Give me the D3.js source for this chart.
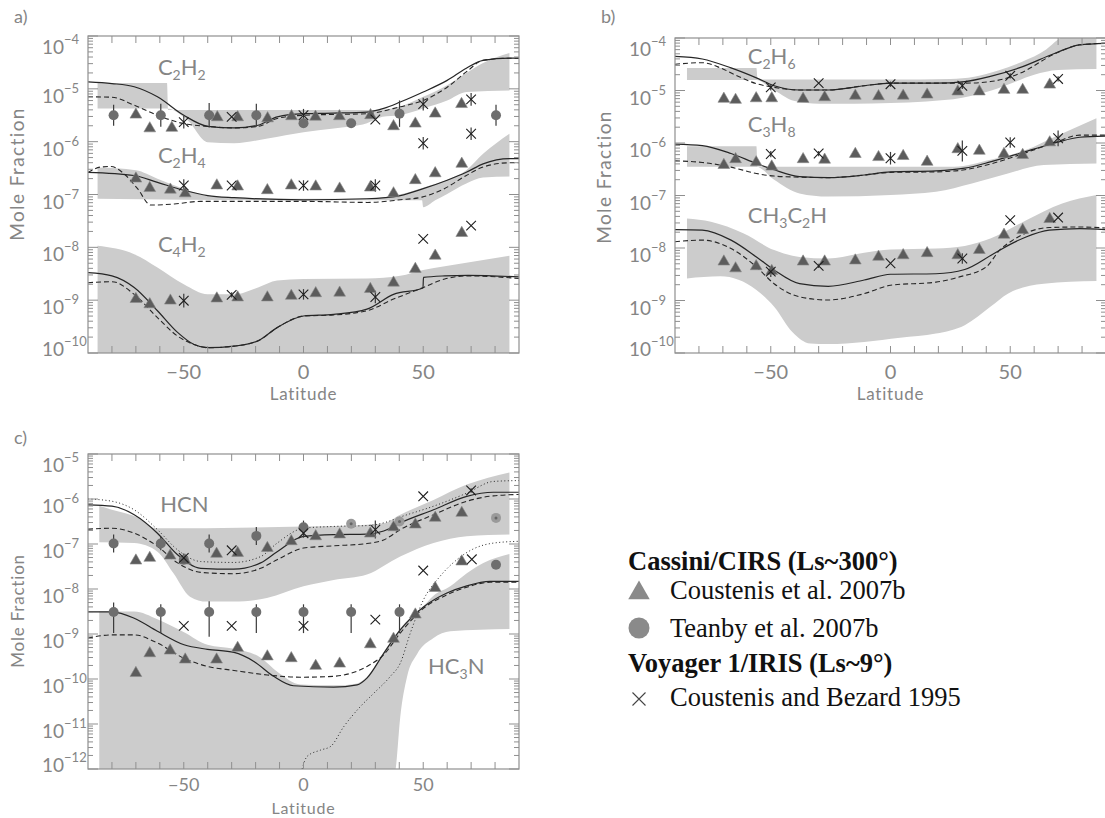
<!DOCTYPE html>
<html>
<head>
<meta charset="utf-8">
<script src="https://cdn.jsdelivr.net/npm/d3@7"></script>
<style>
  body { margin: 0; background: #fff; }
  svg { display: block; }
</style>
</head>
<body>
<div id="chart"></div>
<script>
// all values are log10(mole fraction); x is latitude (deg)

// ---- panel a ----
var c2h2BandHi = [[-86,-4.89],[-57,-4.89],[-56.5,-5.40],[-30,-5.40],[0,-5.40],[30,-5.40],[40,-5.34],[50,-5.15],[60,-4.93],[68,-4.70],[75,-4.51],[86,-4.32]]
var c2h2BandLo = [[-86,-5.37],[-57,-5.37],[-48.5,-5.59],[-40,-6.01],[-29,-6.03],[-15,-5.94],[0,-5.82],[12.6,-5.75],[26.5,-5.65],[33,-5.53],[40,-5.50],[50,-5.37],[60,-5.22],[68,-5.06],[86,-5.03]]
var c2h2Solid  = [[-90,-4.87],[-80,-4.90],[-70.7,-4.96],[-61,-5.15],[-50,-5.50],[-40,-5.71],[-29,-5.74],[-19,-5.69],[-11,-5.53],[0,-5.47],[12.6,-5.46],[26.5,-5.44],[33.5,-5.37],[40.4,-5.25],[50,-5.06],[60,-4.84],[68,-4.61],[75,-4.46],[86,-4.42],[90,-4.42]]
var c2h2Dash   = [[-90,-5.15],[-80,-5.16],[-70.7,-5.31],[-61,-5.50],[-50,-5.66],[-40,-5.71],[-29,-5.74],[-19,-5.71],[-11,-5.56],[0,-5.50],[26.5,-5.47],[40.4,-5.34],[50,-5.22],[60,-4.97],[68,-4.68],[75,-4.46],[86,-4.42],[90,-4.42]]
var c2h2Tri    = [[-70,-5.49],[-64.2,-5.75],[-55,-5.74],[-36,-5.54],[-27.5,-5.54],[-15,-5.56],[-5,-5.52],[5,-5.53],[15,-5.52],[28,-5.50],[37.6,-5.71],[46.7,-5.66],[55,-5.47],[66,-5.29]]
var c2h2Circ   = [[-79.3,-5.50,0.2,0.2],[-59.6,-5.50,0.22,0.22],[-39.4,-5.50,0.23,0.23],[-19.7,-5.50,0.22,0.22],[0,-5.65,0.09,0.09],[19.9,-5.65,0.08,0.08],[40.1,-5.47,0.25,0.25],[80.4,-5.50,0.2,0.2]]
var c2h2Cross  = [[-50,-5.63,0.12,0.12],[-30,-5.53,0,0],[0,-5.50,0.12,0.12],[30,-5.58,0,0],[50,-5.29,0.12,0.12],[50,-6.03,0.12,0.12],[70,-5.20,0.12,0.12],[70,-5.85,0.12,0.12]]

var c2h4BandHi = [[-86,-6.49],[-70,-6.54],[-61,-6.70],[-50,-6.89],[-40,-7.03],[-30,-7.06],[0,-7.08],[30,-7.07],[40,-7.0],[50,-6.87],[60,-6.72],[68,-6.54],[75,-6.23],[86,-5.85]]
var c2h4BandLo = [[-86,-7.08],[-50,-7.10],[0,-7.11],[49.5,-7.11],[50,-7.24],[55,-7.11],[60,-6.99],[68,-6.79],[75,-6.68],[86,-6.66]]
var c2h4Solid  = [[-90,-6.58],[-70.7,-6.64],[-61,-6.77],[-50,-6.92],[-40,-7.02],[-29,-7.06],[0,-7.10],[26.5,-7.08],[40.4,-7.02],[50,-6.89],[60,-6.73],[68,-6.58],[75,-6.42],[86,-6.32],[90,-6.32]]
var c2h4Dash   = [[-90,-6.58],[-84.6,-6.48],[-80.4,-6.47],[-74.9,-6.61],[-69.3,-6.89],[-63.8,-7.20],[-54,-7.18],[-43,-7.13],[0,-7.13],[26.5,-7.15],[40.4,-7.10],[49.5,-7.05],[58.8,-6.89],[68,-6.64],[75,-6.48],[86,-6.40],[90,-6.40]]
var c2h4Tri    = [[-70,-6.70],[-64.2,-6.88],[-55.6,-6.91],[-49.4,-6.98],[-36.2,-6.83],[-27.5,-6.85],[-15.1,-6.92],[-5.1,-6.83],[5.1,-6.85],[15.1,-6.89],[27.9,-6.87],[37.6,-6.98],[46.7,-6.73],[55,-6.60],[66.1,-6.42]]
var c2h4Cross  = [[-50,-6.83,0.12,0.12],[-30,-6.83,0,0],[0,-6.83,0.1,0.1],[30,-6.83,0.12,0.12]]

var c4h2BandHi = [[-86,-7.97],[-70.7,-8.13],[-61,-8.38],[-50,-8.70],[-40,-8.89],[-29,-8.89],[-19,-8.76],[-11,-8.63],[0,-8.60],[26.5,-8.59],[40.4,-8.54],[50,-8.43],[68,-8.29],[86,-8.16]]
var c4h2BandLo = [[-86,-10.3],[86,-10.3]]
var c4h2Solid  = [[-90,-8.48],[-80,-8.54],[-70.7,-8.76],[-61,-9.20],[-52.6,-9.61],[-45.7,-9.84],[-40,-9.90],[-29,-9.87],[-19,-9.77],[-11,-9.52],[0,-9.30],[12.6,-9.27],[26.5,-9.17],[37.6,-8.89],[49.9,-8.77],[50.1,-8.57],[59,-8.54],[68.7,-8.53],[90,-8.56]]
var c4h2Dash   = [[-90,-8.67],[-80,-8.65],[-70.7,-8.89],[-61,-9.33],[-52.6,-9.68],[-45.7,-9.84],[-40,-9.90],[-29,-9.87],[-19,-9.77],[-11,-9.52],[0,-9.30],[12.6,-9.28],[26.5,-9.20],[37.6,-8.98],[49.5,-8.77],[59,-8.60],[68.7,-8.54],[90,-8.59]]
var c4h2Tri    = [[-70,-8.98],[-64.2,-9.08],[-55.6,-9.01],[-36.2,-8.97],[-27.5,-8.95],[-15.1,-8.95],[-5.1,-8.92],[5.1,-8.87],[15.1,-8.86],[27.9,-8.79],[37.6,-8.67],[46.7,-8.41],[55,-8.16],[66.1,-7.73]]
var c4h2Cross  = [[-50,-9.01,0.13,0.13],[-30,-8.90,0.05,0.05],[0,-8.89,0.1,0.1],[30,-8.94,0.12,0.12],[50,-7.84,0,0],[70,-7.59,0,0]]

// ---- panel b ----
var c2h6BandHi = [[-85,-4.57],[-56,-4.57],[-55.5,-4.79],[0,-4.79],[25,-4.78],[35,-4.74],[45,-4.62],[55,-4.45],[65,-4.22],[70,-4.03],[77,-3.9],[86,-3.9]]
var c2h6BandLo = [[-85,-4.80],[-56,-4.80],[-50,-4.95],[-40,-5.20],[-30,-5.25],[-15,-5.25],[0,-5.24],[15,-5.21],[30,-5.14],[40,-5.03],[50,-4.87],[60,-4.70],[70,-4.61],[86,-4.59]]
var c2h6Solid  = [[-90,-4.35],[-78.6,-4.40],[-66.6,-4.57],[-56,-4.76],[-48.6,-4.91],[-38,-4.99],[-26,-4.99],[-11,-4.91],[0,-4.86],[19,-4.86],[31,-4.83],[41.7,-4.73],[53.7,-4.57],[68.7,-4.29],[79,-4.13],[90,-4.10]]
var c2h6Dash   = [[-90,-4.50],[-78.6,-4.47],[-71,-4.57],[-65,-4.70],[-56,-4.87],[-48.6,-4.94],[-38,-4.99],[-26,-4.99],[-11,-4.91],[0,-4.86],[19,-4.86],[31,-4.86],[41.7,-4.83],[53.7,-4.68],[68.7,-4.30],[79,-4.13],[90,-4.10]]
var c2h6Tri    = [[-69.6,-5.16],[-64.7,-5.18],[-56.1,-5.15],[-49.6,-5.15],[-36.5,-5.16],[-27.5,-5.13],[-14.7,-5.10],[-5,-5.11],[5.3,-5.10],[15.3,-5.08],[28.1,-5.02],[37.1,-5.02],[47.4,-4.99],[55.2,-4.99],[66.5,-4.89]]
var c2h6Cross  = [[-50,-4.94,0.06,0.06],[-30,-4.86,0,0],[0,-4.88,0.05,0.05],[30,-4.91,0.06,0.06],[50,-4.72,0.05,0.05],[70,-4.78,0.05,0.05]]

var c3h8BandHi = [[-85,-6.06],[-56,-6.06],[-55.5,-6.45],[26.6,-6.45],[41.7,-6.32],[56.7,-6.13],[68.7,-5.88],[86,-5.53]]
var c3h8BandLo = [[-85,-6.45],[-56,-6.45],[-48.6,-6.70],[-38,-6.96],[-26,-7.02],[0,-6.99],[19,-6.93],[34,-6.77],[49,-6.58],[64,-6.42],[86,-6.39]]
var c3h8Solid  = [[-90,-6.02],[-78.6,-6.05],[-66.6,-6.20],[-56,-6.39],[-48.6,-6.51],[-38,-6.64],[-26,-6.66],[-11,-6.61],[0,-6.55],[19,-6.53],[31,-6.48],[41.7,-6.36],[53.7,-6.20],[68.7,-6.00],[79,-5.89],[90,-5.87]]
var c3h8Dash   = [[-90,-6.34],[-78.6,-6.37],[-66.6,-6.46],[-56,-6.58],[-48.6,-6.63],[-38,-6.65],[-26,-6.66],[-11,-6.61],[0,-6.56],[19,-6.55],[31,-6.51],[41.7,-6.40],[53.7,-6.23],[68.7,-5.99],[79,-5.85],[90,-5.85]]
var c3h8Tri    = [[-69.6,-6.42],[-64.7,-6.31],[-56.1,-6.37],[-49.6,-6.45],[-36.5,-6.31],[-27.5,-6.32],[-14.7,-6.21],[-5,-6.27],[5.3,-6.25],[15.3,-6.36],[28.1,-6.12],[37.1,-6.15],[47.4,-6.21],[55.2,-6.23],[66.5,-5.99]]
var c3h8Cross  = [[-50,-6.21,0.06,0.06],[-30,-6.20,0.05,0.05],[0,-6.29,0.12,0.12],[30,-6.15,0.2,0.2],[50,-5.99,0.1,0.1],[70,-5.91,0.15,0.15]]

var ch3c2hBandHi = [[-85,-7.44],[-75,-7.50],[-61.5,-7.72],[-48.6,-8.04],[-38,-8.17],[-26,-8.20],[-11,-8.09],[0,-8.03],[19,-8.01],[31,-7.96],[41.7,-7.82],[56.7,-7.47],[71.7,-7.15],[86,-6.99]]
var ch3c2hBandLo = [[-85,-8.58],[-71,-8.54],[-56,-8.80],[-48.6,-9.12],[-41,-9.60],[-33.5,-9.82],[-26,-9.83],[-11,-9.79],[4,-9.71],[19,-9.63],[31,-9.47],[41.7,-9.12],[49,-8.87],[64,-8.68],[86,-8.63]]
var ch3c2hSolid  = [[-90,-7.65],[-78.6,-7.66],[-66.6,-7.85],[-56,-8.17],[-48.6,-8.42],[-38,-8.68],[-26,-8.73],[-11,-8.61],[0,-8.50],[19,-8.49],[31,-8.41],[42.7,-8.12],[49.6,-7.94],[56.6,-7.79],[66.3,-7.66],[79,-7.63],[90,-7.65]]
var ch3c2hDash   = [[-90,-7.88],[-78.6,-7.85],[-66.6,-8.01],[-56,-8.36],[-48.6,-8.68],[-38,-8.93],[-26,-8.99],[-11,-8.87],[0,-8.71],[19,-8.65],[28.8,-8.55],[40,-8.36],[45.6,-8.04],[51.1,-7.85],[66.3,-7.61],[79,-7.60],[90,-7.62]]
var ch3c2hTri    = [[-69.6,-8.26],[-64.7,-8.39],[-56.1,-8.35],[-49.6,-8.44],[-36.5,-8.26],[-27.5,-8.26],[-14.7,-8.24],[-5,-8.17],[5.3,-8.14],[15.3,-8.10],[28.1,-8.14],[37.1,-8.04],[47.4,-7.75],[55.2,-7.66],[66.5,-7.45]]
var ch3c2hCross  = [[-50,-8.45,0.1,0.1],[-30,-8.34,0.04,0.04],[0,-8.29,0,0],[30,-8.20,0.1,0.1],[50,-7.47,0,0],[70,-7.42,0,0]]

// ---- panel c ----
var hcnBandHi = [[-85.3,-6.15],[-80,-6.24],[-68.8,-6.42],[-61.5,-6.65],[0,-6.61],[26.5,-6.57],[33.5,-6.54],[40.4,-6.35],[54.3,-6.02],[68.2,-5.68],[86,-5.41]]
var hcnBandLo = [[-85.3,-6.96],[-70.7,-6.98],[-61,-7.17],[-54.3,-7.65],[-47.4,-8.17],[-40.4,-8.28],[-29.2,-8.28],[-15.3,-8.20],[0,-7.94],[12.6,-7.80],[26.5,-7.68],[40.4,-7.28],[54.3,-6.98],[68.2,-6.83],[86,-6.79]]
var hcnSolid  = [[-90,-6.13],[-80,-6.16],[-70.7,-6.35],[-61,-6.76],[-52.6,-7.24],[-42.9,-7.54],[-29.2,-7.56],[-17.9,-7.42],[-11,-7.17],[0,-6.83],[12.6,-6.79],[26.5,-6.78],[33.5,-6.71],[40.4,-6.53],[54.3,-6.24],[68.2,-5.94],[79.3,-5.85],[90,-5.85]]
var hcnDash   = [[-90,-6.67],[-80,-6.65],[-70.7,-6.76],[-61,-7.05],[-52.6,-7.42],[-42.9,-7.63],[-29.2,-7.66],[-17.9,-7.54],[-11,-7.35],[0,-7.09],[12.6,-7.04],[26.5,-6.99],[33.5,-6.91],[40.4,-6.68],[54.3,-6.35],[68.2,-6.05],[79.3,-5.93],[90,-5.90]]
var hcnDot    = [[-90,-6.00],[-80,-6.05],[-70.7,-6.24],[-61,-6.68],[-52.6,-7.13],[-42.9,-7.39],[-29.2,-7.41],[-17.9,-7.28],[-11,-6.98],[0,-6.65],[12.6,-6.61],[26.5,-6.59],[33.5,-6.53],[40.4,-6.40],[54.3,-6.16],[68.2,-5.87],[79.3,-5.61],[90,-5.59]]
var hcnTri    = [[-70,-7.37],[-64.2,-7.31],[-55.7,-7.26],[-49.4,-7.37],[-36.3,-7.22],[-27.5,-7.20],[-15.1,-7.09],[-5.1,-6.94],[5.1,-6.83],[15.1,-6.79],[27.9,-6.77],[37.6,-6.63],[46.7,-6.57],[55,-6.42],[66.1,-6.31]]
var hcnCirc   = [[-79.3,-6.99,0.2,0.2],[-59.6,-6.99,0.15,0.15],[-50,-7.35,0,0],[-39.4,-6.99,0.2,0.2],[-19.7,-6.82,0.2,0.2],[0,-6.63,0.15,0.15]]
var hcnCircLight = [[19.9,-6.55],[40.1,-6.50],[80.4,-6.42]]
var hcnCross  = [[-50,-7.31,0.1,0.1],[-30,-7.14,0,0],[0,-6.76,0.1,0.1],[30,-6.68,0.2,0.2],[50,-5.94,0,0],[70,-5.81,0.05,0.05]]

var hc3nBandHi = [[-85.3,-8.50],[-70.7,-8.50],[-61,-8.67],[-49.9,-8.96],[-40.1,-9.24],[-29,-9.33],[-18,-9.52],[-10.4,-9.86],[-1.3,-10.12],[15.4,-10.14],[22.4,-10.10],[26.5,-9.95],[33.5,-9.40],[40.4,-8.88],[50.1,-8.38],[54.3,-8.15],[61.3,-7.94],[68.2,-7.65],[75.1,-7.42],[86,-7.22]]
var hc3nBandLo = [[-85.3,-12.3],[37.6,-12.3],[38.5,-12.0],[40.4,-10.85],[43.2,-9.96],[47.4,-9.45],[54.3,-9.09],[61.3,-8.94],[86,-8.89]]
var hc3nSolid  = [[-90,-8.51],[-80,-8.51],[-70.7,-8.65],[-61,-8.94],[-49.9,-9.24],[-40.1,-9.34],[-29,-9.41],[-20.7,-9.61],[-12.5,-9.94],[-4.2,-10.15],[12.6,-10.18],[22.4,-10.13],[26.5,-9.98],[33.5,-9.43],[40.4,-8.91],[50.1,-8.40],[59.9,-8.09],[68.2,-7.93],[77.9,-7.83],[90,-7.83]]
var hc3nDash   = [[-90,-9.09],[-80,-9.02],[-70.7,-9.02],[-61,-9.20],[-49.9,-9.54],[-40.1,-9.72],[-29,-9.81],[-15.1,-9.91],[-1.3,-9.96],[12.6,-9.94],[26.5,-9.72],[33.5,-9.46],[40.4,-8.98],[50.1,-8.43],[59.9,-8.13],[68.2,-7.96],[77.9,-7.85],[90,-7.85]]
var hc3nDot    = [[-0.6,-12.0],[1.5,-11.72],[7.1,-11.58],[11.3,-11.50],[16.8,-11.06],[23.8,-10.61],[29.3,-10.32],[36.3,-9.94],[40.4,-9.65],[44.6,-8.98],[50.1,-8.24],[57,-7.72],[64,-7.35],[70.9,-7.11],[79.3,-6.98],[90,-6.94]]
var hc3nTri    = [[-70,-9.87],[-64.2,-9.43],[-55.7,-9.37],[-49.4,-9.57],[-36.3,-9.57],[-27.5,-9.31],[-15.1,-9.50],[-5.1,-9.54],[5.1,-9.71],[15.1,-9.66],[27.9,-9.23],[37.6,-9.11],[46.7,-8.57],[55,-7.98],[66.1,-7.39]]
var hc3nCirc   = [[-79.3,-8.51,0.21,0.47],[-59.6,-8.51,0.17,0.47],[-39.4,-8.51,0.24,0.55],[-19.7,-8.51,0.17,0.47],[0,-8.51,0.17,0.47],[19.9,-8.51,0.17,0.47],[40.1,-8.51,0.17,0.47],[80.4,-7.46,0.08,0.08]]
var hc3nCross  = [[-50,-8.82,0,0],[-30,-8.82,0,0],[0,-8.82,0.05,0.05],[30,-8.68,0,0],[50,-7.59,0,0],[70.3,-7.34,0,0]]

var latTicks = [-50, 0, 50]
var legendRows = [
	{kind: 'head', text: 'Cassini/CIRS (Ls~300°)'},
	{kind: 'tri',  text: 'Coustenis et al. 2007b'},
	{kind: 'circ', text: 'Teanby et al. 2007b'},
	{kind: 'head', text: 'Voyager 1/IRIS (Ls~9°)'},
	{kind: 'cross', text: 'Coustenis and Bezard 1995'}
]

//globals
var W = 1105, H = 818
var axisGray = '#8f8f8f', textGray = '#858585', bandGray = '#cccccc', ink = '#262626'
var sans = 'Lato, "Liberation Sans", sans-serif'
var serif = '"Liberation Serif", "Times New Roman", serif'
var pow10 = function(e){ return Math.pow(10, e) }

var svg = d3.select('#chart')
			.append('svg')
			.attr('width', W)
			.attr('height', H)
			.style('background', '#fff')

// chemical formula with subscripted digits, e.g. 'C_2H_2'
function chem(g, x, y, formula) {
	var t = g.append('text')
			 .attr('x', x).attr('y', y)
			 .attr('font-family', sans).attr('font-size', 22)
			 .attr('fill', textGray)
	formula.split(/(_\d)/).forEach(function(p){
		if (!p) return
		if (p[0] === '_')
			t.append('tspan').attr('font-size', 14).attr('dy', 5).text(p[1])
		else
			t.append('tspan').attr('dy', t.selectAll('tspan').size() ? -5 : 0).text(p)
	})
}

function panel(o) {
	var x = d3.scaleLinear().domain([-90, 90]).range([o.left, o.left + o.width])
	var y = d3.scaleLog().domain([pow10(o.yMin), pow10(o.yMax)]).range([o.top + o.height, o.top])
	var g = svg.append('g')

	g.append('clipPath').attr('id', 'clip-' + o.name)
	 .append('rect')
	 .attr('x', o.left).attr('y', o.top)
	 .attr('width', o.width).attr('height', o.height)

	var plot = g.append('g').attr('clip-path', 'url(#clip-' + o.name + ')')

	var line = d3.line()
				 .x(function(d){ return x(d[0]) })
				 .y(function(d){ return y(pow10(d[1])) })
				 .curve(d3.curveMonotoneX)

	//bands first
	o.species.forEach(function(s){
		var hi = line(s.hi), lo = line(s.lo.slice().reverse())
		plot.append('path')
			.attr('d', hi + 'L' + lo.slice(1) + 'Z')
			.attr('fill', bandGray)
	})

	//model lines
	o.species.forEach(function(s){
		plot.append('path').attr('d', line(s.solid))
			.attr('fill', 'none').attr('stroke', ink).attr('stroke-width', 1.2)
		plot.append('path').attr('d', line(s.dash))
			.attr('fill', 'none').attr('stroke', ink).attr('stroke-width', 1.1)
			.attr('stroke-dasharray', '5,3')
		if (s.dot)
			plot.append('path').attr('d', line(s.dot))
				.attr('fill', 'none').attr('stroke', ink).attr('stroke-width', 1)
				.attr('stroke-dasharray', '1,2.5')
	})

	//observations
	var tri = d3.symbol().type(d3.symbolTriangle).size(60)
	o.species.forEach(function(s){
		var errs = (s.circ || []).concat(s.cross || [])
		plot.selectAll(null).data(errs.filter(function(d){ return d[2] || d[3] }))
			.enter().append('line')
			.attr('x1', function(d){ return x(d[0]) })
			.attr('x2', function(d){ return x(d[0]) })
			.attr('y1', function(d){ return y(pow10(d[1] + d[2])) })
			.attr('y2', function(d){ return y(pow10(d[1] - d[3])) })
			.attr('stroke', '#3a3a3a').attr('stroke-width', 1.2)

		plot.selectAll(null).data(s.circ || [])
			.enter().append('circle')
			.attr('cx', function(d){ return x(d[0]) })
			.attr('cy', function(d){ return y(pow10(d[1])) })
			.attr('r', 5)
			.attr('fill', '#6e6e6e')

		var light = plot.selectAll(null).data(s.circLight || []).enter()
		light.append('circle')
			.attr('cx', function(d){ return x(d[0]) })
			.attr('cy', function(d){ return y(pow10(d[1])) })
			.attr('r', 5).attr('fill', '#9a9a9a')
		light.append('circle')
			.attr('cx', function(d){ return x(d[0]) })
			.attr('cy', function(d){ return y(pow10(d[1])) })
			.attr('r', 1.5).attr('fill', '#666')

		plot.selectAll(null).data(s.tri)
			.enter().append('path')
			.attr('d', tri)
			.attr('transform', function(d){ return 'translate(' + x(d[0]) + ',' + y(pow10(d[1])) + ')' })
			.attr('fill', '#5c5c5c')
			.attr('stroke', '#8a8a8a').attr('stroke-width', 0.6)

		plot.selectAll(null).data(s.cross || [])
			.enter().append('path')
			.attr('d', 'M-4.8,-4.8L4.8,4.8M-4.8,4.8L4.8,-4.8')
			.attr('transform', function(d){ return 'translate(' + x(d[0]) + ',' + y(pow10(d[1])) + ')' })
			.attr('stroke', '#1e1e1e').attr('stroke-width', 1.1)
	})

	//frame and ticks
	var x0 = o.left, x1 = o.left + o.width, y0 = o.top, y1 = o.top + o.height
	g.append('rect')
	 .attr('x', x0).attr('y', y0).attr('width', o.width).attr('height', o.height)
	 .attr('fill', 'none').attr('stroke', axisGray).attr('stroke-width', 1.2)

	var xt = d3.range(-80, 90, 10)
	g.selectAll(null).data(xt).enter().append('path')
	 .attr('d', function(d){ return 'M' + x(d) + ',' + y1 + 'v-7M' + x(d) + ',' + y0 + 'v7' })
	 .attr('stroke', axisGray).attr('stroke-width', 1)

	var yt = y.ticks()
	g.selectAll(null).data(yt).enter().append('path')
	 .attr('d', function(d){
		var major = Math.abs(Math.log10(d) - Math.round(Math.log10(d))) < 1e-6
		var len = major ? 10 : 5
		return 'M' + x0 + ',' + y(d) + 'h' + len + 'M' + x1 + ',' + y(d) + 'h' + (-len)
	 })
	 .attr('stroke', axisGray).attr('stroke-width', 1)

	//y labels: 10^n, the end ones pulled inside
	d3.range(o.yMin, o.yMax + 1).forEach(function(e){
		var off = e === o.yMax ? 18 : (e === o.yMin ? 3 : 14)
		var t = g.append('text')
				 .attr('x', x0 - 46).attr('y', y(pow10(e)) + off)
				 .attr('font-family', sans).attr('font-size', 19)
				 .attr('fill', textGray)
		t.append('tspan').text('10')
		t.append('tspan').attr('dy', -10).attr('font-size', 13).text('\u2212' + Math.abs(e))
	})

	//x labels
	g.selectAll(null).data(latTicks).enter().append('text')
	 .attr('x', function(d){ return x(d) })
	 .attr('y', y1 + o.tickDy)
	 .attr('text-anchor', 'middle')
	 .attr('font-family', sans).attr('font-size', o.tickSize)
	 .attr('fill', textGray)
	 .text(function(d){ return d < 0 ? '\u2212' + Math.abs(d) : d })

	g.append('text')
	 .attr('x', (x0 + x1) / 2).attr('y', y1 + o.latDy)
	 .attr('text-anchor', 'middle')
	 .attr('font-family', sans).attr('font-size', o.latSize)
	 .attr('letter-spacing', 0.8)
	 .attr('fill', textGray)
	 .text('Latitude')

	g.append('text')
	 .attr('transform', 'translate(' + (x0 - 64) + ',' + o.titleY + ') rotate(-90)')
	 .attr('text-anchor', 'middle')
	 .attr('font-family', sans).attr('font-size', o.titleSize)
	 .attr('letter-spacing', o.titleSize > 17 ? 1.4 : 0.8)
	 .attr('fill', textGray)
	 .text('Mole Fraction')

	g.append('text')
	 .attr('x', x0 - 74).attr('y', y0 + o.tagDy)
	 .attr('font-family', sans).attr('font-size', 18)
	 .attr('fill', textGray)
	 .text(o.tag)

	o.labels.forEach(function(l){ chem(g, x(l[0]), y(pow10(l[1])), l[2]) })
}

panel({
	name: 'a', tag: 'a)', tagDy: -13, left: 88, top: 36, width: 431, height: 317, yMin: -10, yMax: -4,
	tickSize: 20, tickDy: 26, titleSize: 19, titleY: 174, latDy: 47, latSize: 17,
	species: [
		{hi: c2h2BandHi, lo: c2h2BandLo, solid: c2h2Solid, dash: c2h2Dash, tri: c2h2Tri, circ: c2h2Circ, cross: c2h2Cross},
		{hi: c2h4BandHi, lo: c2h4BandLo, solid: c2h4Solid, dash: c2h4Dash, tri: c2h4Tri, cross: c2h4Cross},
		{hi: c4h2BandHi, lo: c4h2BandLo, solid: c4h2Solid, dash: c4h2Dash, tri: c4h2Tri, cross: c4h2Cross}
	],
	labels: [[-60.8, -4.84, 'C_2H_2'], [-60.8, -6.50, 'C_2H_4'], [-60.8, -8.18, 'C_4H_2']]
})

panel({
	name: 'b', tag: 'b)', tagDy: -15, left: 675, top: 38, width: 431, height: 315, yMin: -10, yMax: -4,
	tickSize: 20, tickDy: 26, titleSize: 19, titleY: 177, latDy: 47, latSize: 17,
	species: [
		{hi: c2h6BandHi, lo: c2h6BandLo, solid: c2h6Solid, dash: c2h6Dash, tri: c2h6Tri, cross: c2h6Cross},
		{hi: c3h8BandHi, lo: c3h8BandLo, solid: c3h8Solid, dash: c3h8Dash, tri: c3h8Tri, cross: c3h8Cross},
		{hi: ch3c2hBandHi, lo: ch3c2hBandLo, solid: ch3c2hSolid, dash: ch3c2hDash, tri: ch3c2hTri, cross: ch3c2hCross}
	],
	labels: [[-59.6, -4.59, 'C_2H_6'], [-59.6, -5.88, 'C_3H_8'], [-59.6, -7.62, 'CH_3C_2H']]
})

panel({
	name: 'c', tag: 'c)', tagDy: -10, left: 88, top: 454, width: 431, height: 315, yMin: -12, yMax: -5,
	tickSize: 18, tickDy: 22, titleSize: 17, titleY: 611, latDy: 45, latSize: 16,
	species: [
		{hi: hcnBandHi, lo: hcnBandLo, solid: hcnSolid, dash: hcnDash, dot: hcnDot, tri: hcnTri, circ: hcnCirc, circLight: hcnCircLight, cross: hcnCross},
		{hi: hc3nBandHi, lo: hc3nBandLo, solid: hc3nSolid, dash: hc3nDash, dot: hc3nDot, tri: hc3nTri, circ: hc3nCirc, cross: hc3nCross}
	],
	labels: [[-59.8, -6.40, 'HCN'], [52, -10.0, 'HC_3N']]
})

//legend
var leg = svg.append('g').attr('transform', 'translate(628,570)')
var rowY = [0, 29, 67, 102, 136]
var markY = [0, -6, -9, 0, -7]
legendRows.forEach(function(r, i){
	var yy = rowY[i], my = yy + markY[i]
	if (r.kind === 'head') {
		leg.append('text').attr('x', 0).attr('y', yy)
		   .attr('font-family', serif).attr('font-size', 26.5)
		   .attr('font-weight', 'bold').attr('fill', '#111')
		   .text(r.text)
		return
	}
	if (r.kind === 'tri')
		leg.append('path').attr('d', d3.symbol().type(d3.symbolTriangle).size(200))
		   .attr('transform', 'translate(11,' + my + ')').attr('fill', '#8a8a8a')
	if (r.kind === 'circ')
		leg.append('circle').attr('cx', 11).attr('cy', my).attr('r', 10.5).attr('fill', '#8a8a8a')
	if (r.kind === 'cross')
		leg.append('path').attr('d', 'M-6.5,-6.5L6.5,6.5M-6.5,6.5L6.5,-6.5')
		   .attr('transform', 'translate(11,' + my + ')')
		   .attr('stroke', '#444').attr('stroke-width', 1.1)
	leg.append('text').attr('x', 42).attr('y', yy)
	   .attr('font-family', serif).attr('font-size', 26.5)
	   .attr('fill', '#111')
	   .text(r.text)
})
</script>
</body>
</html>
